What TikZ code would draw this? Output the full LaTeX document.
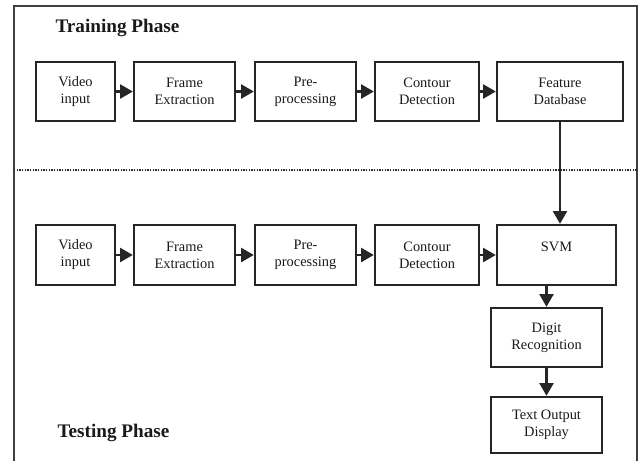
\documentclass[tikz,border=0pt]{standalone}
\usepackage{fontspec}
\setmainfont{Liberation Serif}
\usetikzlibrary{arrows.meta}

\begin{document}
\begin{tikzpicture}[x=0.75pt,y=-0.75pt,
  box/.style={draw=black!85, line width=1.8pt, align=center, inner sep=0pt,
    font=\fontsize{10.8}{12.75}\selectfont, text=black!90},
  flow/.style={line width=1.6pt, draw=black!85,
    -{Triangle[length=9.5pt,width=10.5pt]}},
  frameline/.style={line width=1.5pt, draw=black!75},
  phase/.style={font=\fontsize{14.4}{16}\selectfont\bfseries, text=black!90}
]
\useasboundingbox (0,0) rectangle (640,461);

% outer frame (open at the bottom) and phase separator
\draw[frameline] (14,461) -- (14,6) -- (637,6) -- (637,461);
\draw[line width=1.4pt, draw=black!85, dash pattern=on 1pt off 1pt] (14,170) -- (637,170);

\node[phase] (trainlbl) at (117.5,28) {Training Phase};
\node[phase] (testlbl) at (113.5,433) {Testing Phase};

% training row
\node[box, minimum width=59.25pt, minimum height=44.25pt] (tv) at (75.5,91.5) {Video\\input};
\node[box, minimum width=75.75pt, minimum height=44.25pt] (tf) at (184.5,91.5) {Frame\\Extraction};
\node[box, minimum width=75.75pt, minimum height=44.25pt] (tp) at (305.5,91.5) {Pre-\\processing};
\node[box, minimum width=78pt, minimum height=44.25pt] (tc) at (427,91.5) {Contour\\Detection};
\node[box, minimum width=94.5pt, minimum height=44.25pt] (td) at (560,91.5) {Feature\\Database};

% testing row
\node[box, minimum width=59.25pt, minimum height=45pt] (sv) at (75.5,255) {Video\\input};
\node[box, minimum width=75.75pt, minimum height=45pt] (sf) at (184.5,255) {Frame\\Extraction};
\node[box, minimum width=75.75pt, minimum height=45pt] (sp) at (305.5,255) {Pre-\\processing};
\node[box, minimum width=78pt, minimum height=45pt] (sc) at (427,255) {Contour\\Detection};
\node[box, minimum width=89.25pt, minimum height=45pt] (svm) at (556.5,255) {SVM\\~};
\node[box, minimum width=83.25pt, minimum height=44.25pt] (dig) at (546.5,337.5) {Digit\\Recognition};
\node[box, minimum width=83.25pt, minimum height=42pt] (out) at (546.5,425) {Text Output\\Display};

% connectors
\draw[flow] (tv) -- (tf);
\draw[flow] (tf) -- (tp);
\draw[flow] (tp) -- (tc);
\draw[flow] (tc) -- (td);
\draw[flow] (sv) -- (sf);
\draw[flow] (sf) -- (sp);
\draw[flow] (sp) -- (sc);
\draw[flow] (sc) -- (svm);
\draw[flow] (td.south) -- (td.south |- svm.north);
\draw[flow] (dig.north |- svm.south) -- (dig.north);
\draw[flow] (dig) -- (out);
\end{tikzpicture}
\end{document}
